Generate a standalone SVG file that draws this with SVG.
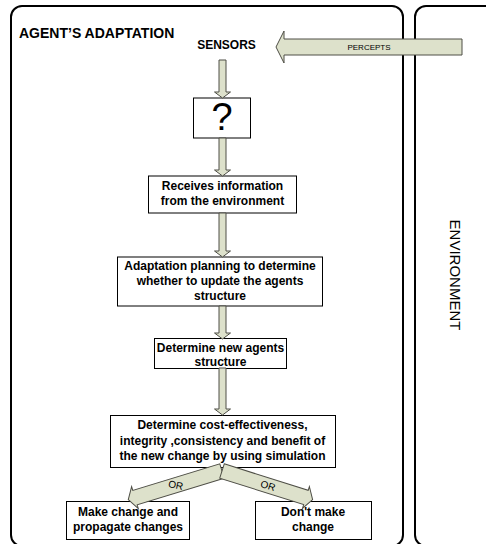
<svg xmlns="http://www.w3.org/2000/svg" width="486" height="544" viewBox="0 0 486 544">
  <style>
    .frame { fill: none; stroke: #000; stroke-width: 2; }
    .box { fill: #fff; stroke: #000; stroke-width: 1; }
    .blk { fill: #dde1cb; stroke: #4e4e46; stroke-width: 1; stroke-linejoin: miter; }
    .lbl { font-family: "Liberation Sans", Arial, sans-serif; font-weight: bold; font-size: 12px; fill: #000; text-anchor: middle; }
    .title { font-family: "Liberation Sans", Arial, sans-serif; font-weight: bold; font-size: 14px; fill: #000; }
    .small { font-family: "Liberation Sans", Arial, sans-serif; font-size: 8px; fill: #000; text-anchor: middle; }
    .or { font-family: "Liberation Sans", Arial, sans-serif; font-size: 10px; fill: #000; text-anchor: middle; }
  </style>

  <!-- regions -->
  <g id="agent-region">
    <rect class="frame" x="11" y="6" width="392" height="540" rx="11" ry="11"/>
    <text class="title" x="19" y="38">AGENT’S ADAPTATION</text>
  </g>
  <g id="environment-region">
    <rect class="frame" x="415" y="6" width="100" height="540" rx="11" ry="11"/>
    <text transform="translate(450,275) rotate(90)" x="0" y="0" font-family="'Liberation Sans', Arial, sans-serif" font-size="15" text-anchor="middle" fill="#000">ENVIRONMENT</text>
  </g>

  <!-- nodes -->
  <g id="sensors">
    <text class="lbl" x="226.5" y="49">SENSORS</text>
  </g>
  <g id="unknown">
    <rect class="box" x="193.5" y="98" width="57" height="40"/>
    <text x="222" y="130" font-family="'Liberation Sans', Arial, sans-serif" font-size="38" text-anchor="middle" fill="#000">?</text>
  </g>
  <g id="receives">
    <rect class="box" x="148.5" y="176" width="148" height="37"/>
    <text class="lbl" x="222.5" y="190">Receives information</text>
    <text class="lbl" x="222.5" y="205">from the environment</text>
  </g>
  <g id="planning">
    <rect class="box" x="117.5" y="257" width="205" height="49"/>
    <text class="lbl" x="220" y="270">Adaptation planning to determine</text>
    <text class="lbl" x="220" y="285">whether to update the agents</text>
    <text class="lbl" x="220" y="300">structure</text>
  </g>
  <g id="new-structure">
    <rect class="box" x="154.5" y="338.5" width="132" height="30"/>
    <text class="lbl" x="220.5" y="352">Determine new agents</text>
    <text class="lbl" x="220.5" y="365.5">structure</text>
  </g>
  <g id="evaluate">
    <rect class="box" x="110.5" y="415.5" width="225" height="52"/>
    <text class="lbl" x="222.5" y="429">Determine cost-effectiveness,</text>
    <text class="lbl" x="222.5" y="444.5">integrity ,consistency and benefit of</text>
    <text class="lbl" x="222.5" y="460">the new change by using simulation</text>
  </g>
  <g id="make-change">
    <rect class="box" x="66.5" y="501.5" width="123" height="38"/>
    <text class="lbl" x="128" y="516">Make change and</text>
    <text class="lbl" x="128" y="531">propagate changes</text>
  </g>
  <g id="no-change">
    <rect class="box" x="255.5" y="501.5" width="116" height="38"/>
    <text class="lbl" x="313" y="516">Don't make</text>
    <text class="lbl" x="313" y="531">change</text>
  </g>

  <!-- connectors -->
  <g id="connectors">
    <g id="percepts">
      <path class="blk" d="M462,39 V55 H284 V63 L276,47 L284,31 V39 Z"/>
      <text class="small" x="369" y="50">PERCEPTS</text>
    </g>
    <path class="blk" d="M219,60 H226 V92 H230.5 L222.5,98 L214.5,92 H219 Z"/>
    <path class="blk" d="M219,138 H226 V170 H230.5 L222.5,176 L214.5,170 H219 Z"/>
    <path class="blk" d="M219,213 H226 V251 H230.5 L222.5,257 L214.5,251 H219 Z"/>
    <path class="blk" d="M219,306 H226 V333 H230.5 L222.5,339 L214.5,333 H219 Z"/>
    <path class="blk" d="M219,368 H226 V409 H230.5 L222.5,415 L214.5,409 H219 Z"/>
    <g id="or-left">
      <path class="blk" transform="translate(222,471) rotate(163)" d="M0,-7.5 H91 V-11.5 L98,0 L91,11.5 V7.5 H0 Z"/>
      <text class="or" transform="translate(175,488.5) rotate(12)" x="0" y="0">OR</text>
    </g>
    <g id="or-right">
      <path class="blk" transform="translate(222,471) rotate(17.5)" d="M0,-7.5 H88 V-11.5 L95,0 L88,11.5 V7.5 H0 Z"/>
      <text class="or" transform="translate(267,489) rotate(17.5)" x="0" y="0">OR</text>
    </g>
  </g>
</svg>
